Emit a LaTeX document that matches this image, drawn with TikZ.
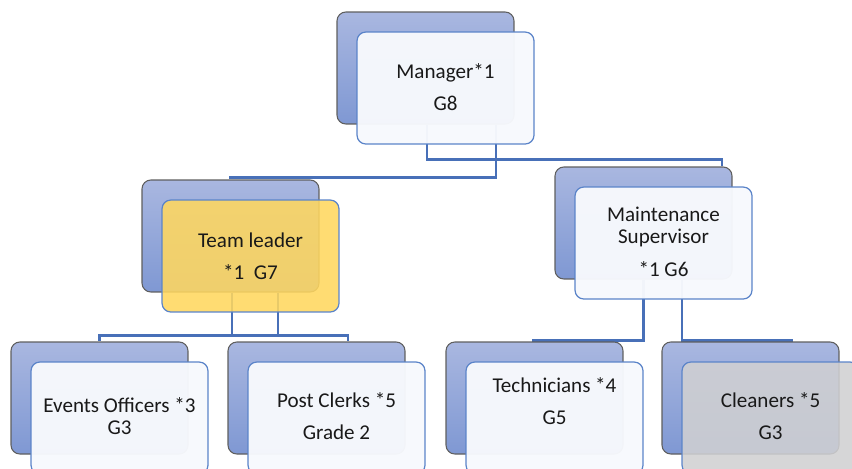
\documentclass[tikz,border=0pt]{standalone}
\usepackage{fontspec}
\setmainfont{Carlito}
\usetikzlibrary{backgrounds}
\definecolor{boxtop}{HTML}{A9B7E0}
\definecolor{boxbot}{HTML}{7F98D3}
\definecolor{boxline}{HTML}{5F5F5F}
\definecolor{cardfill}{HTML}{F7F9FD}
\definecolor{cardline}{HTML}{5B84C9}
\definecolor{leadfill}{HTML}{FFD75F}
\definecolor{cleanfill}{HTML}{D0D0D2}
\definecolor{linkblue}{HTML}{4870B8}

\begin{document}
\begin{tikzpicture}[x=0.02cm,y=-0.02cm,
  backbox/.style={draw=boxline, line width=0.6pt, rounded corners=5pt, top color=boxtop, bottom color=boxbot,
    minimum width=3.54cm, minimum height=2.24cm, inner sep=0pt},
  frontbox/.style={draw=cardline, line width=0.7pt, rounded corners=5pt, fill=cardfill, fill opacity=0.97,
    minimum width=3.54cm, minimum height=2.24cm, inner sep=0pt},
  boxtext/.style={align=center, text=black!90, font=\fontsize{12}{12.5}\selectfont, inner sep=0pt},
  link/.style={draw=linkblue, line width=1.5pt}]
  \newcommand{\post}[6]{
    \node[backbox] (#1b) at (#2,#3) {};
    \node[frontbox, #4] (#1f) at ([shift={(20,20)}]#1b.center) {};
    \node[boxtext] (#1t) at ([shift={(0,#5)}]#1f.center) {#6};
  }
  \useasboundingbox (0,0) rectangle (852,468);
  \clip (0,0) rectangle (852,468);

  \post{mgr}{425.5}{68}{}{-1}{Manager*1\\[6pt]G8}
  \post{lead}{230.5}{236}{fill=leadfill, fill opacity=0.88}{0}{Team leader\\[6pt]*1\ \ G7}
  \post{mnt}{643.5}{223}{}{-1}{Maintenance\\Supervisor\\[6.5pt]*1 G6}
  \post{evt}{99.5}{398}{}{-2}{Events Officers *3\\G3}
  \post{pst}{316.5}{398}{}{-2}{Post Clerks *5\\[6pt]Grade 2}
  \post{tec}{534.5}{398}{}{-17}{Technicians *4\\[6pt]G5}
  \post{cln}{750.5}{398}{fill=cleanfill, fill opacity=0.88}{-2}{Cleaners *5\\[6pt]G3}

  \begin{scope}[on background layer]
    \draw[link] ([shift={(70.5,0)}]mgrb.south) -- ++(0,53) -| (leadb.north);
    \draw[link] ([shift={(1.5,0)}]mgrb.south) -- ++(0,35) -| ([shift={(78.5,0)}]mntb.north);
    \draw[link] ([shift={(47.5,0)}]leadb.south) -- ++(0,43) -| (evtb.north);
    \draw[link] ([shift={(1.5,0)}]leadb.south) -- ++(0,43) -| ([shift={(31.5,0)}]pstb.north);
    \draw[link] (mntb.south) -- ++(0,61) -| ([shift={(-1.5,0)}]tecb.north);
    \draw[link] ([shift={(38.5,0)}]mntb.south) -- ++(0,61) -| ([shift={(41.5,0)}]clnb.north);
  \end{scope}
\end{tikzpicture}
\end{document}
